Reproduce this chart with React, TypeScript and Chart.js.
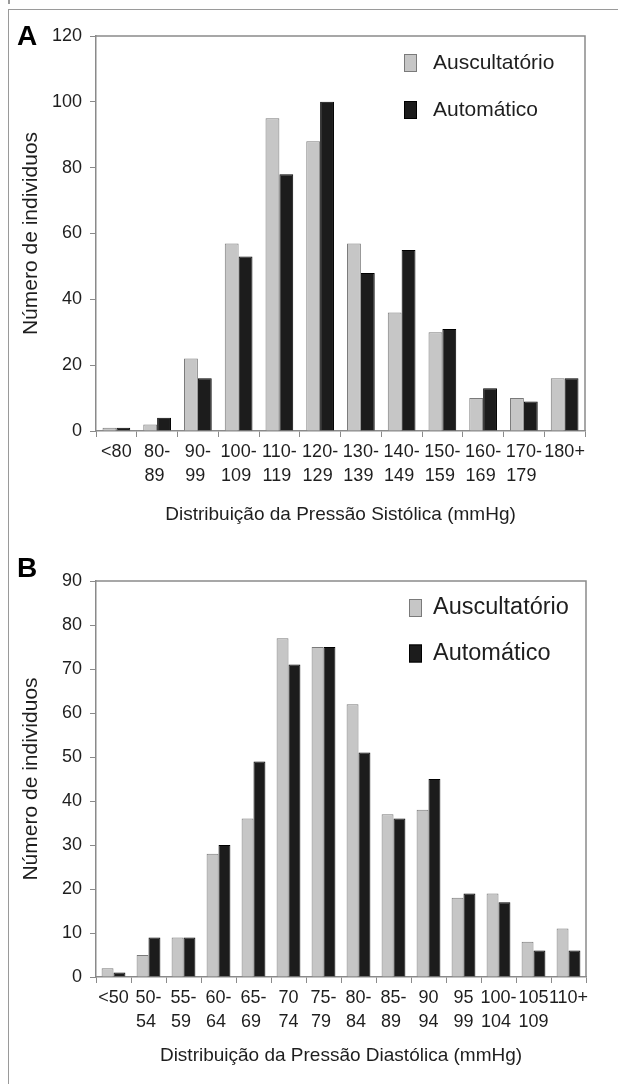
import React, { useEffect, useRef } from "react";
import { Chart, registerables } from "chart.js";

Chart.register(...registerables);

const FONT = '"Liberation Sans", Arial, Helvetica, sans-serif';

// ---- Data: Systolic (panel A) ----
const sysLabels = [
  "<80",
  ["80-", "89 "],
  ["90-", "99 "],
  ["100-", "109 "],
  ["110-", "119 "],
  ["120-", "129 "],
  ["130-", "139 "],
  ["140-", "149 "],
  ["150-", "159 "],
  ["160-", "169 "],
  ["170-", "179 "],
  "180+",
];
const sysAusc = [1, 2, 22, 57, 95, 88, 57, 36, 30, 10, 10, 16];
const sysAuto = [1, 4, 16, 53, 78, 100, 48, 55, 31, 13, 9, 16];

// ---- Data: Diastolic (panel B) ----
const diaLabels = [
  "<50",
  ["50-", "54 "],
  ["55-", "59 "],
  ["60-", "64 "],
  ["65-", "69 "],
  ["70", "74"],
  ["75-", "79 "],
  ["80-", "84 "],
  ["85-", "89 "],
  ["90", "94"],
  ["95", "99"],
  ["100-", "104 "],
  ["105", "109"],
  "110+",
];
const diaAusc = [2, 5, 9, 28, 36, 77, 75, 62, 37, 38, 18, 19, 8, 11];
const diaAuto = [1, 9, 9, 30, 49, 71, 75, 51, 36, 45, 19, 17, 6, 6];

const seriesNames = ["Auscultatório", "Automático"];
const yTitle = "Número de individuos";
const sysTitle = "Distribuição da Pressão Sistólica (mmHg)";
const diaTitle = "Distribuição da Pressão Diastólica (mmHg)";

const AXIS = "#8a8a8a";
const TEXT = "#1e1e1e";

const framePlugin = {
  id: "plotFrame",
  afterDraw(chart: any) {
    const { ctx, chartArea: a } = chart;
    ctx.save();
    ctx.strokeStyle = AXIS;
    ctx.lineWidth = 1.5;
    ctx.beginPath();
    ctx.moveTo(a.left, a.top);
    ctx.lineTo(a.right, a.top);
    ctx.lineTo(a.right, a.bottom);
    ctx.stroke();
    ctx.restore();
  },
};

const insideLegend = {
  id: "insideLegend",
  afterDraw(chart: any, _args: any, opts: any) {
    const { ctx, chartArea: a } = chart;
    ctx.save();
    chart.data.datasets.forEach((ds: any, i: number) => {
      const cy = a.top + opts.top + i * opts.gap;
      const x = a.right - opts.right;
      ctx.fillStyle = ds.backgroundColor;
      ctx.fillRect(x, cy - opts.boxH / 2, opts.boxW, opts.boxH);
      ctx.strokeStyle = ds.borderColor;
      ctx.lineWidth = 1;
      ctx.strokeRect(x + 0.5, cy - opts.boxH / 2 + 0.5, opts.boxW - 1, opts.boxH - 1);
      ctx.fillStyle = TEXT;
      ctx.font = `${opts.size}px ${FONT}`;
      ctx.textBaseline = "middle";
      ctx.textAlign = "left";
      ctx.fillText(ds.label, x + opts.textOffset, cy);
    });
    ctx.restore();
  },
};

const panelLetter = {
  id: "panelLetter",
  afterDraw(chart: any, _args: any, opts: any) {
    const { ctx } = chart;
    ctx.save();
    ctx.fillStyle = "#000";
    ctx.font = `bold ${opts.size}px ${FONT}`;
    ctx.textBaseline = "alphabetic";
    ctx.textAlign = "left";
    ctx.fillText(opts.text, opts.x, opts.baseline);
    ctx.restore();
  },
};

type PanelProps = {
  top: number;
  height: number;
  labels: any[];
  ausc: number[];
  auto: number[];
  yMax: number;
  yStep: number;
  xTitle: string;
  padTop: number;
  padRight: number;
  xHeight: number;
  titlePadBottom: number;
  legend: any;
  letter: any;
};

function Panel(p: PanelProps) {
  const ref = useRef<HTMLCanvasElement | null>(null);
  useEffect(() => {
    if (!ref.current) return;
    const chart = new Chart(ref.current, {
      type: "bar",
      data: {
        labels: p.labels,
        datasets: [
          {
            label: seriesNames[0],
            data: p.ausc,
            backgroundColor: "#c6c6c6",
            borderColor: "#7a7a7a",
            borderWidth: 1,
            categoryPercentage: 0.68,
            barPercentage: 1,
          },
          {
            label: seriesNames[1],
            data: p.auto,
            backgroundColor: "#1c1c1c",
            borderColor: "#000000",
            borderWidth: 1,
            categoryPercentage: 0.68,
            barPercentage: 1,
          },
        ],
      },
      options: {
        responsive: false,
        animation: false,
        devicePixelRatio: 1,
        layout: { padding: { left: 14, right: p.padRight, top: p.padTop, bottom: 0 } },
        plugins: {
          legend: { display: false },
          tooltip: { enabled: false },
          insideLegend: p.legend,
          panelLetter: p.letter,
        } as any,
        scales: {
          x: {
            offset: true,
            grid: {
              display: true,
              drawOnChartArea: false,
              drawTicks: true,
              tickLength: 6,
              color: AXIS,
              lineWidth: 1,
              offset: true,
            },
            border: { display: true, color: AXIS, width: 1.5 },
            ticks: {
              autoSkip: false,
              maxRotation: 0,
              minRotation: 0,
              padding: 4,
              color: TEXT,
              font: { family: FONT, size: 18, lineHeight: 1.28 },
            },
            title: {
              display: true,
              text: p.xTitle,
              color: TEXT,
              font: { family: FONT, size: 19, lineHeight: 1.2 },
              padding: { top: 0, bottom: p.titlePadBottom },
            },
            afterFit: (s: any) => {
              s.height = p.xHeight;
            },
          },
          y: {
            min: 0,
            max: p.yMax,
            grid: {
              display: true,
              drawOnChartArea: false,
              drawTicks: true,
              tickLength: 6,
              color: AXIS,
              lineWidth: 1,
            },
            border: { display: true, color: AXIS, width: 1.5 },
            ticks: {
              stepSize: p.yStep,
              padding: 8,
              color: TEXT,
              font: { family: FONT, size: 18 },
            },
            title: {
              display: true,
              text: yTitle,
              color: TEXT,
              font: { family: FONT, size: 21, lineHeight: 1.2 },
              padding: { top: 5, bottom: 0 },
            },
            afterFit: (s: any) => {
              s.width = 82;
            },
          },
        },
      } as any,
      plugins: [framePlugin, insideLegend, panelLetter],
    });
    return () => chart.destroy();
  }, []);
  return (
    <canvas
      ref={ref}
      width={618}
      height={p.height}
      style={{ position: "absolute", left: 0, top: p.top, width: 618, height: p.height }}
    />
  );
}

export default function App() {
  return (
    <div
      style={{
        position: "absolute",
        left: 0,
        top: 0,
        width: 618,
        height: 1084,
        background: "#fff",
        overflow: "hidden",
      }}
    >
      <div
        style={{
          position: "absolute",
          left: 8,
          top: 0,
          width: 1.5,
          height: 4,
          background: "#9a9a9a",
        }}
      />
      <div
        style={{
          position: "absolute",
          left: 8,
          top: 9,
          width: 610,
          height: 1075,
          borderLeft: "1.5px solid #9a9a9a",
          borderTop: "1.5px solid #9a9a9a",
          boxSizing: "border-box",
        }}
      />
      <Panel
        top={0}
        height={540}
        labels={sysLabels}
        ausc={sysAusc}
        auto={sysAuto}
        yMax={120}
        yStep={20}
        xTitle={sysTitle}
        padTop={36}
        padRight={33}
        xHeight={109}
        titlePadBottom={13.6}
        legend={{ top: 27, gap: 47, right: 181, boxW: 13, boxH: 18, textOffset: 29, size: 21 }}
        letter={{ text: "A", x: 17, baseline: 45, size: 28 }}
      />
      <Panel
        top={520}
        height={564}
        labels={diaLabels}
        ausc={diaAusc}
        auto={diaAuto}
        yMax={90}
        yStep={10}
        xTitle={diaTitle}
        padTop={61}
        padRight={32}
        xHeight={107}
        titlePadBottom={16.6}
        legend={{ top: 27, gap: 45.5, right: 177, boxW: 13, boxH: 18, textOffset: 24, size: 23.5 }}
        letter={{ text: "B", x: 17, baseline: 57, size: 28 }}
      />
    </div>
  );
}
